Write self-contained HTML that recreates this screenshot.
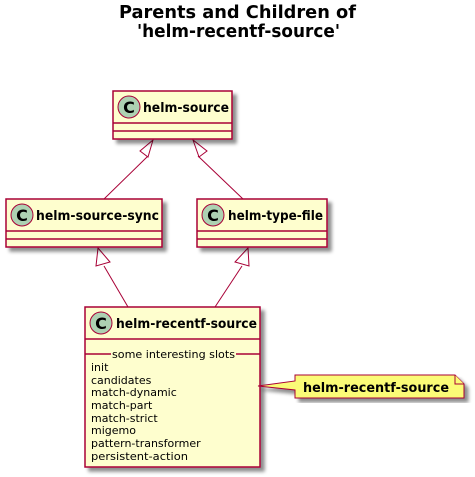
<!DOCTYPE html>
<html><head><style>
body{margin:0;background:#fff;}
svg{display:block;font-family:"DejaVu Sans","Liberation Sans",sans-serif;}
</style></head><body>
<svg width="475" height="477" xmlns="http://www.w3.org/2000/svg">
<defs><filter id="s" x="-10%" y="-10%" width="130%" height="130%"><feGaussianBlur in="SourceAlpha" stdDeviation="1.8"/><feOffset dx="4" dy="4"/><feComponentTransfer><feFuncA type="linear" slope="0.45"/></feComponentTransfer><feMerge><feMergeNode/><feMergeNode in="SourceGraphic"/></feMerge></filter></defs>
<text x="119" y="18" textLength="237" lengthAdjust="spacingAndGlyphs" font-size="18" font-weight="bold">Parents and Children of</text>
<text x="137" y="37" textLength="203" lengthAdjust="spacingAndGlyphs" font-size="18" font-weight="bold">'helm-recentf-source'</text>
<g stroke="#A80036" stroke-width="1" fill="none">
<line x1="148" y1="156" x2="104" y2="199"/>
<polygon points="153,140 140,151 148,157" fill="#fff"/>
<line x1="198" y1="156" x2="243" y2="199"/>
<polygon points="193,140 199,157 207,151" fill="#fff"/>
<line x1="104" y1="266" x2="128" y2="307"/>
<polygon points="98,248 96,266 110,262" fill="#fff"/>
<line x1="242" y1="266" x2="215" y2="307"/>
<polygon points="248,248 235,262 249,266" fill="#fff"/>
</g>
<g filter="url(#s)" stroke="#A80036" stroke-width="1.5" fill="#FEFECE">
<rect x="113" y="91" width="119" height="48"/>
<rect x="6" y="199" width="156" height="48"/>
<rect x="197" y="199" width="130" height="48"/>
<rect x="85" y="307" width="175" height="160"/>
</g>
<g stroke="#A80036" stroke-width="1.5">
<line x1="113" y1="123" x2="232" y2="123"/><line x1="113" y1="131" x2="232" y2="131"/>
<line x1="6" y1="231" x2="162" y2="231"/><line x1="6" y1="239" x2="162" y2="239"/>
<line x1="197" y1="231" x2="327" y2="231"/><line x1="197" y1="239" x2="327" y2="239"/>
<line x1="85" y1="339" x2="260" y2="339"/>
<line x1="85" y1="354" x2="111" y2="354"/><line x1="236" y1="354" x2="260" y2="354"/>
</g>
<g stroke="#A80036" stroke-width="1" fill="#ADD1B2">
<circle cx="129" cy="107" r="11"/><circle cx="22" cy="215" r="11"/><circle cx="213" cy="215" r="11"/><circle cx="101" cy="323" r="11"/>
</g>
<g font-size="16" font-weight="bold" text-anchor="middle">
<text x="129" y="113">C</text><text x="22" y="221">C</text><text x="213" y="221">C</text><text x="101" y="329">C</text>
</g>
<g font-size="13" font-weight="bold">
<text x="143" y="112" textLength="86" lengthAdjust="spacingAndGlyphs">helm-source</text>
<text x="36" y="220" textLength="123" lengthAdjust="spacingAndGlyphs">helm-source-sync</text>
<text x="228" y="220" textLength="95" lengthAdjust="spacingAndGlyphs">helm-type-file</text>
<text x="116" y="328" textLength="141" lengthAdjust="spacingAndGlyphs">helm-recentf-source</text>
</g>
<g font-size="11">
<text x="112" y="358" textLength="123" lengthAdjust="spacingAndGlyphs">some interesting slots</text>
<text x="91" y="371">init</text>
<text x="91" y="384">candidates</text>
<text x="91" y="396">match-dynamic</text>
<text x="91" y="409">match-part</text>
<text x="91" y="422">match-strict</text>
<text x="91" y="434">migemo</text>
<text x="91" y="447">pattern-transformer</text>
<text x="91" y="460" textLength="97" lengthAdjust="spacingAndGlyphs">persistent-action</text>
</g>
<g filter="url(#s)" stroke="#A80036" stroke-width="1" fill="#FBFB77">
<polygon points="295,375 455,375 464,384 464,398 295,398 295,390 258,386 295,381"/>
</g>
<polyline points="455,375 455,384 464,384" stroke="#A80036" fill="#FBFB77"/>
<text x="303" y="392" font-size="13" font-weight="bold" textLength="146" lengthAdjust="spacingAndGlyphs">helm-recentf-source</text>
</svg>
</body></html>
